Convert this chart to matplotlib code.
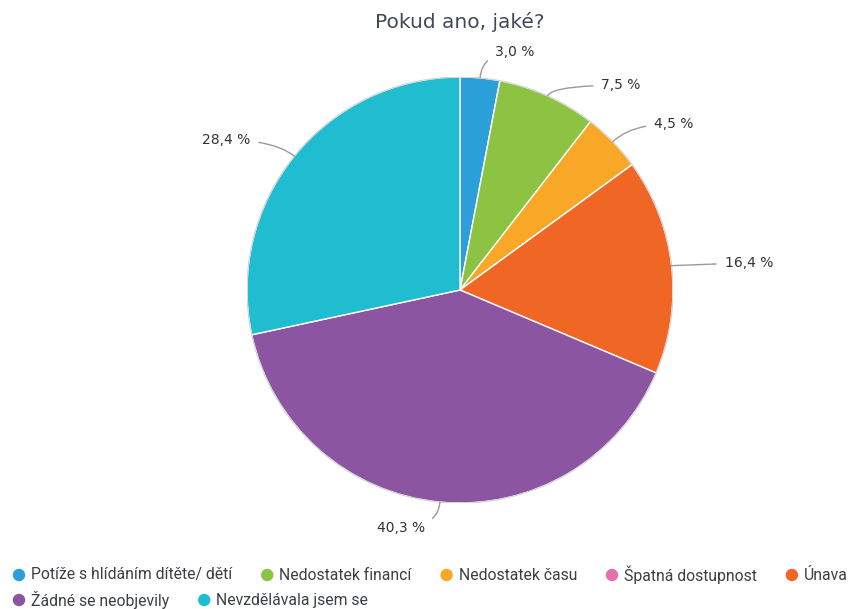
import numpy as np
import matplotlib
matplotlib.use('Agg')
import matplotlib.pyplot as plt

# data
categories = ['Potíže s hlídáním dítěte/ dětí', 'Nedostatek financí', 'Nedostatek času',
              'Špatná dostupnost', 'Únava', 'Žádné se neobjevily', 'Nevzdělávala jsem se']
values = [3.0, 7.5, 4.5, 0.0, 16.4, 40.3, 28.4]
colors = ['#2a9fd8', '#8cc342', '#f8a727', '#e56fb0', '#ef6625', '#8c55a2', '#1fbdcf']
title = 'Pokud ano, jaké?'

W, H = 866, 609
fig = plt.figure(figsize=(W / 100, H / 100), dpi=100)
fig.patch.set_facecolor('white')

# pie box in pixels: centre (460, 290), radius 213
cx, cy, R = 460, 290, 213
ax = fig.add_axes([(cx - R) / W, (H - cy - R) / H, 2 * R / W, 2 * R / H])
ax.axis('off')

wedges, _ = ax.pie(values, colors=colors, startangle=90, counterclock=False, radius=1.0,
                   wedgeprops=dict(edgecolor='white', linewidth=1.0))
ax.add_patch(plt.Circle((0, 0), 1.0, fill=False, edgecolor='#d0d0d0', linewidth=0.8))
ax.set_xlim(-1, 1)
ax.set_ylim(-1, 1)

# percentage labels with curved leader lines
nudge = {1: (0.12, -0.06)}
for i, (w, v) in enumerate(zip(wedges, values)):
    if v <= 0:
        continue
    th = np.deg2rad((w.theta1 + w.theta2) / 2)
    c, s = np.cos(th), np.sin(th)
    side = 1 if c >= 0 else -1
    tx, ty = 1.2 * c + side * 0.05, 1.12 * s
    dx, dy = nudge.get(i, (0, 0))
    tx, ty = tx + dx, ty + dy
    ang = np.rad2deg(th)
    if abs(s) < 0.25:
        cs = 'arc3,rad=0'
    else:
        cs = f'angle3,angleA=0,angleB={ang:.1f}'
    txt = f'{v:.1f} %'.replace('.', ',')
    ax.annotate(txt, xy=(c, s), xytext=(tx, ty), ha='left' if side > 0 else 'right',
                va='center', fontsize=10, color='#333333', annotation_clip=False,
                arrowprops=dict(arrowstyle='-', color='#9a9a9a', lw=1.0,
                                connectionstyle=cs, shrinkA=4, shrinkB=0))

fig.text(cx / W, 1 - 22 / H, title, ha='center', va='center', fontsize=14.5, color='#3e4a5a')

# flow legend at the bottom
leg_font = ['Roboto', 'DejaVu Sans']
leg_size = 11.3
renderer = fig.canvas.get_renderer()
x0 = 19
x, y = x0, 575
row_gap = 25
for col, lab in zip(colors, categories):
    t = fig.text(0, 0, lab, fontsize=leg_size, family=leg_font)
    tw = t.get_window_extent(renderer).width
    t.remove()
    if x + 12 + tw > 870:
        x = x0
        y += row_gap
    fig.patches.append(matplotlib.patches.Circle((x, H - y), 5.5, color=col,
                                                 transform=None, figure=fig))
    fig.text((x + 12) / W, 1 - y / H, lab, fontsize=leg_size, family=leg_font,
             color='#3a3f46', ha='left', va='center')
    x += 12 + tw + 35

fig.savefig('out.png', dpi=100)
